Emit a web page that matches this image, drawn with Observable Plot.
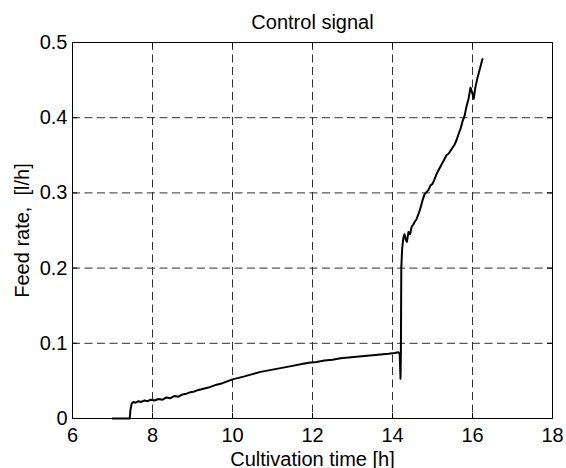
<!DOCTYPE html>
<html>
<head>
<meta charset="utf-8">
<script src="https://cdn.jsdelivr.net/npm/d3@7"></script>
<script src="https://cdn.jsdelivr.net/npm/@observablehq/plot@0.6"></script>
<style>
  html, body { margin: 0; padding: 0; background: #fff; }
</style>
</head>
<body>
<div id="chart"></div>
<script>
const title = "Control signal";
const xLabel = "Cultivation time [h]";
const yLabel = "Feed rate,  [l/h]";
const xTicks = [6, 8, 10, 12, 14, 16, 18];
const yTicks = [0, 0.1, 0.2, 0.3, 0.4, 0.5];

const time = [
  7.00, 7.43, 7.45, 7.48, 7.52, 7.58, 7.65, 7.72, 7.80, 7.88, 7.95,
  8.05, 8.15, 8.25, 8.35, 8.45, 8.55, 8.65, 8.75, 8.85, 8.95,
  9.05, 9.15, 9.30, 9.45, 9.60, 9.75, 9.90, 10.00, 10.15, 10.30,
  10.50, 10.70, 10.90, 11.10, 11.30, 11.50, 11.70, 11.90, 12.10, 12.30,
  12.50, 12.70, 12.90, 13.10, 13.30, 13.50, 13.70, 13.90, 14.05, 14.15,
  14.18, 14.20, 14.21, 14.22, 14.24, 14.27, 14.30, 14.33, 14.36, 14.40,
  14.44, 14.48, 14.52, 14.56, 14.60, 14.65, 14.70, 14.75, 14.80, 14.85,
  14.90, 14.95, 15.00, 15.05, 15.10, 15.15, 15.20, 15.25, 15.30, 15.35,
  15.40, 15.45, 15.50, 15.55, 15.60, 15.65, 15.70, 15.75, 15.80, 15.85,
  15.90, 15.95, 16.00, 16.03, 16.07, 16.12, 16.17, 16.21, 16.25
];
const feed = [
  0, 0, 0.012, 0.020, 0.022, 0.021, 0.023, 0.022, 0.024, 0.023, 0.025,
  0.024, 0.026, 0.025, 0.028, 0.027, 0.030, 0.029, 0.032, 0.033, 0.035,
  0.036, 0.038, 0.040, 0.042, 0.045, 0.047, 0.050, 0.052, 0.054, 0.056,
  0.059, 0.062, 0.064, 0.066, 0.068, 0.070, 0.072, 0.074, 0.075, 0.077,
  0.078, 0.080, 0.081, 0.082, 0.083, 0.084, 0.085, 0.086, 0.087, 0.088,
  0.086, 0.053, 0.090, 0.200, 0.225, 0.240, 0.245, 0.238, 0.235, 0.248,
  0.245, 0.255, 0.258, 0.262, 0.265, 0.272, 0.280, 0.290, 0.298, 0.301,
  0.304, 0.310, 0.312, 0.318, 0.325, 0.330, 0.335, 0.340, 0.345, 0.350,
  0.352, 0.356, 0.360, 0.364, 0.370, 0.378, 0.385, 0.395, 0.402, 0.415,
  0.425, 0.440, 0.432, 0.425, 0.440, 0.452, 0.462, 0.470, 0.478
];

const data = time.map((t, i) => ({time: t, feed: feed[i]}));

const W = 566, H = 468;
const mL = 72, mR = 14, mT = 42, mB = 50;
const plotW = W - mL - mR, plotH = H - mT - mB;
const tickLen = 5;
const fs = 20;
const gridStyle = {stroke: "#303030", strokeWidth: 1, strokeDasharray: "8,4.5"};

const chart = Plot.plot({
  width: W,
  height: H,
  marginLeft: mL,
  marginRight: mR,
  marginTop: mT,
  marginBottom: mB,
  style: {fontFamily: "'Liberation Sans', Arial, sans-serif", fontSize: fs + "px", background: "#fff", color: "#000"},
  x: {domain: [6, 18]},
  y: {domain: [0, 0.5]},
  marks: [
    Plot.ruleX(xTicks, {x: d => d, ...gridStyle}),
    Plot.ruleY(yTicks, {y: d => d, ...gridStyle}),
    Plot.line(data, {x: "time", y: "feed", stroke: "#000", strokeWidth: 2, strokeLinejoin: "round"}),
    Plot.ruleX(xTicks, {x: d => d, insetTop: plotH - tickLen, stroke: "#000"}),
    Plot.ruleX(xTicks, {x: d => d, insetBottom: plotH - tickLen, stroke: "#000"}),
    Plot.ruleY(yTicks, {y: d => d, insetRight: plotW - tickLen, stroke: "#000"}),
    Plot.ruleY(yTicks, {y: d => d, insetLeft: plotW - tickLen, stroke: "#000"}),
    Plot.frame({stroke: "#000", strokeWidth: 1}),
    Plot.axisX(xTicks, {tickSize: 0, tickPadding: 9, label: null, fontSize: fs}),
    Plot.axisY(yTicks, {tickSize: 0, tickPadding: 5, label: null, fontSize: fs, tickFormat: d => String(d)}),
    Plot.text([title], {frameAnchor: "top", textAnchor: "middle", lineAnchor: "bottom", dy: -14, fontSize: fs}),
    Plot.text([xLabel], {frameAnchor: "bottom", textAnchor: "middle", lineAnchor: "bottom", dy: 47, fontSize: fs}),
    Plot.text([yLabel], {frameAnchor: "left", textAnchor: "middle", lineAnchor: "bottom", rotate: -90, dx: -44, fontSize: fs})
  ]
});

document.getElementById("chart").appendChild(chart);
</script>
</body>
</html>
